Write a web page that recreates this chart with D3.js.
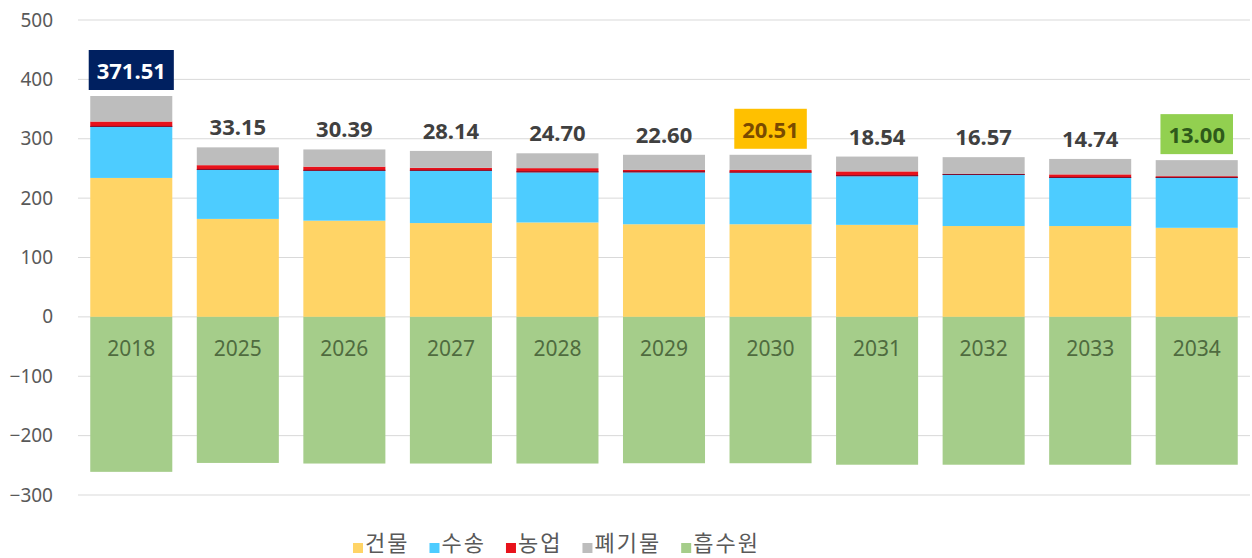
<!DOCTYPE html>
<html>
<head>
<meta charset="utf-8">
<script src="https://cdn.jsdelivr.net/npm/d3@7"></script>
<style>
  body { margin: 0; background: #fff; }
  text { font-family: "Noto Sans", "Noto Sans CJK KR", sans-serif; }
</style>
</head>
<body>
<script>
var years = ['2018','2025','2026','2027','2028','2029','2030','2031','2032','2033','2034'];
var building    = [234, 165, 162, 158, 159, 156, 156, 155, 153, 153, 150];
var transport   = [86, 82.5, 84, 88, 84.5, 87.5, 87, 82, 86, 81, 84];
var agriculture = [9, 8, 7, 5, 7, 4, 4.5, 8, 2, 6, 3];
var waste       = [43, 30, 29, 28.5, 25, 25.5, 25.5, 25, 28, 26, 27];
var sink        = [-261, -246, -247, -247, -247, -246.5, -246.5, -249, -249, -249, -249];
var topLabels   = ['371.51','33.15','30.39','28.14','24.70','22.60','20.51','18.54','16.57','14.74','13.00'];
var yTicks      = [-300, -200, -100, 0, 100, 200, 300, 400, 500];
var seriesNames = ['건물', '수송', '농업', '폐기물', '흡수원'];

var width = 1252, height = 558;
var colors = ['#FFD466', '#4DCCFF', '#E8121B', '#BDBDBD', '#A5CD8A'];

// highlighted labels: index -> box fill / text colour
var highlight = {
  0: {fill: '#002060', text: '#ffffff'},
  6: {fill: '#FFC000', text: '#7A4A00'},
  10: {fill: '#92D050', text: '#2E5A1A'}
};

var svg = d3.select('body').append('svg')
  .attr('width', width)
  .attr('height', height);

var x = d3.scaleBand().domain(years).range([78, 1250]).paddingInner(0.23).paddingOuter(0.115);
var y = d3.scaleLinear().domain([-300, 500]).range([495, 20]);

// gridlines
svg.append('g').selectAll('line')
  .data(yTicks)
  .enter().append('line')
  .attr('x1', 78).attr('x2', 1250)
  .attr('y1', function(d) { return y(d); })
  .attr('y2', function(d) { return y(d); })
  .attr('stroke', '#D9D9D9')
  .attr('stroke-width', 1);

// y axis labels
var yAxis = d3.axisLeft(y).tickValues(yTicks).tickSize(0).tickPadding(0);
var ga = svg.append('g').attr('transform', 'translate(53,0)').call(yAxis);
ga.select('.domain').remove();
ga.selectAll('text')
  .attr('fill', '#595959')
  .style('font-size', '19px')
  .style('font-family', '"Noto Sans", sans-serif');

// stacked positive data
var rows = years.map(function(yr, i) {
  return {year: yr, b: building[i], t: transport[i], a: agriculture[i], w: waste[i], s: sink[i]};
});
var stack = d3.stack().keys(['b', 't', 'a', 'w']);
var layers = stack(rows);

svg.append('g').selectAll('g')
  .data(layers)
  .enter().append('g')
  .attr('fill', function(d, i) { return colors[i]; })
  .selectAll('rect')
  .data(function(d) { return d; })
  .enter().append('rect')
  .attr('x', function(d) { return x(d.data.year); })
  .attr('width', x.bandwidth())
  .attr('y', function(d) { return y(d[1]); })
  .attr('height', function(d) { return y(d[0]) - y(d[1]); });

// thin dark line on red segment
svg.append('g').selectAll('line')
  .data(layers[2])
  .enter().append('line')
  .attr('x1', function(d) { return x(d.data.year); })
  .attr('x2', function(d) { return x(d.data.year) + x.bandwidth(); })
  .attr('y1', function(d) { return y(d[0]) - 0.5; })
  .attr('y2', function(d) { return y(d[0]) - 0.5; })
  .attr('stroke', '#7A1030')
  .attr('stroke-width', 1);

// negative sink bars
svg.append('g').selectAll('rect')
  .data(rows)
  .enter().append('rect')
  .attr('fill', colors[4])
  .attr('x', function(d) { return x(d.year); })
  .attr('width', x.bandwidth())
  .attr('y', y(0))
  .attr('height', function(d) { return y(d.s) - y(0); });

// year labels inside green bars
svg.append('g').selectAll('text')
  .data(years)
  .enter().append('text')
  .attr('x', function(d) { return x(d) + x.bandwidth() / 2; })
  .attr('y', 356)
  .attr('text-anchor', 'middle')
  .attr('fill', '#4F6B3F')
  .style('font-size', '21px')
  .text(function(d) { return d; });

// top labels
var lbl = svg.append('g').selectAll('g')
  .data(rows)
  .enter().append('g');

lbl.each(function(d, i) {
  var g = d3.select(this);
  var cx = x(d.year) + x.bandwidth() / 2;
  var top = y(d.b + d.t + d.a + d.w);
  var h = highlight[i];
  var t = g.append('text')
    .attr('x', cx)
    .attr('text-anchor', 'middle')
    .attr('font-weight', 'bold')
    .style('font-size', '22px')
    .attr('fill', h ? h.text : '#404040')
    .text(topLabels[i]);
  if (h) {
    var tw = t.node().getComputedTextLength();
    var bw = tw + 16, bh = 40;
    var by = top - 6 - bh;
    g.insert('rect', 'text')
      .attr('x', cx - bw / 2)
      .attr('y', by)
      .attr('width', bw)
      .attr('height', bh)
      .attr('fill', h.fill);
    t.attr('y', by + 29);
  } else {
    t.attr('y', top - 12);
  }
});

// legend
var legend = svg.append('g').attr('transform', 'translate(353,543)');
var lx = 0;
seriesNames.forEach(function(name, i) {
  legend.append('rect')
    .attr('x', lx).attr('y', 0)
    .attr('width', 10).attr('height', 10)
    .attr('fill', colors[i]);
  var t = legend.append('text')
    .attr('x', lx + 12)
    .attr('y', 8)
    .attr('fill', '#595959')
    .attr('letter-spacing', '2px')
    .style('font-size', '22px')
    .style('font-family', '"Noto Sans CJK KR", sans-serif')
    .text(name);
  lx += 12 + t.node().getComputedTextLength() + 20;
});
</script>
</body>
</html>
